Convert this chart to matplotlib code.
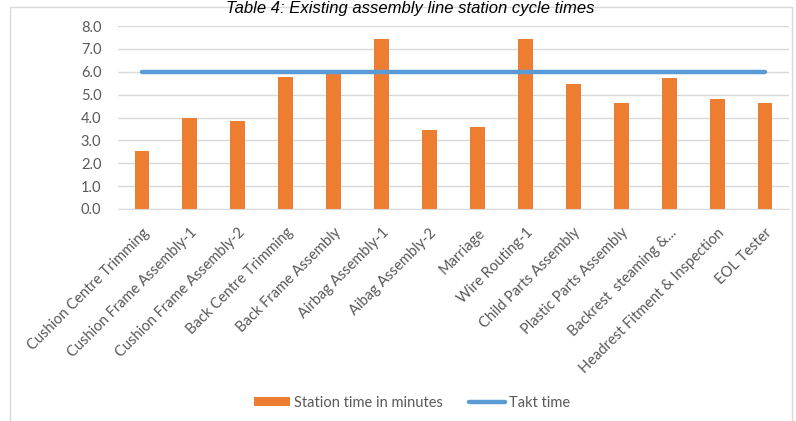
import matplotlib.pyplot as plt
from matplotlib.patches import Rectangle

stations = [
    "Cushion Centre Trimming",
    "Cushion Frame Assembly-1",
    "Cushion Frame Assembly-2",
    "Back Centre Trimming",
    "Back Frame Assembly",
    "Airbag Assembly-1",
    "Aibag Assembly-2",
    "Marriage",
    "Wire Routing-1",
    "Child Parts Assembly",
    "Plastic Parts Assembly",
    "Backrest  steaming &...",
    "Headrest Fitment & Inspection",
    "EOL Tester",
]
station_time = [2.53, 4.0, 3.85, 5.77, 5.88, 7.45, 3.45, 3.58, 7.45, 5.48, 4.63, 5.72, 4.83, 4.63]
takt_time = [6.0] * len(stations)
yticks = [0, 1, 2, 3, 4, 5, 6, 7, 8]

ORANGE = "#ED7D31"
BLUE = "#5B9BD5"
GRID = "#D9D9D9"
TXT = "#595959"

plt.rcParams["font.family"] = ["Lato", "DejaVu Sans"]

fig = plt.figure(figsize=(7.96, 4.21), dpi=100)
W, H = 796, 421

# chart frame
fig.patches.append(Rectangle((10 / W, -0.1), (792 - 10) / W, 1.1 - 7 / H,
                             transform=fig.transFigure, fill=False,
                             edgecolor=GRID, linewidth=1.0))

fig.text(410 / W, 1 - 1 / H, "Table 4: Existing assembly line station cycle times",
         ha="center", va="top", fontsize=12, style="italic",
         family="Liberation Sans", color="black")

ax = fig.add_axes([118 / W, 1 - 209 / H, (789 - 118) / W, (209 - 26) / H])
x = range(len(stations))
bars = ax.bar(x, station_time, width=0.31, color=ORANGE, zorder=2,
              label="Station time in minutes")
line, = ax.plot(x, takt_time, color=BLUE, linewidth=3.2, solid_capstyle="round",
                zorder=3, label="Takt time")

ax.set_xlim(-0.5, len(stations) - 0.5)
ax.set_ylim(0, 8)
ax.set_yticks(yticks)
ax.set_yticklabels([f"{v:.1f}" for v in yticks])
ax.yaxis.grid(True, color=GRID, linewidth=1.0, zorder=0)
ax.set_axisbelow(True)
for s in ["top", "right", "left"]:
    ax.spines[s].set_visible(False)
ax.spines["bottom"].set_color(GRID)
ax.tick_params(axis="both", length=0, colors=TXT, labelsize=10.5)
ax.tick_params(axis="y", pad=12)
ax.tick_params(axis="x", pad=12)
ax.set_xticks(list(x))
ax.set_xticklabels(stations, rotation=45, ha="right", rotation_mode="anchor")

fig.legend([bars, line], ["Station time in minutes", "Takt time"],
           loc="center", bbox_to_anchor=(412 / W, 1 - 403 / H), ncol=2,
           frameon=False, fontsize=10.5, labelcolor=TXT, handlelength=2.5,
           handleheight=0.55, columnspacing=1.8, handletextpad=0.25)

fig.savefig("out.png", dpi=100)
